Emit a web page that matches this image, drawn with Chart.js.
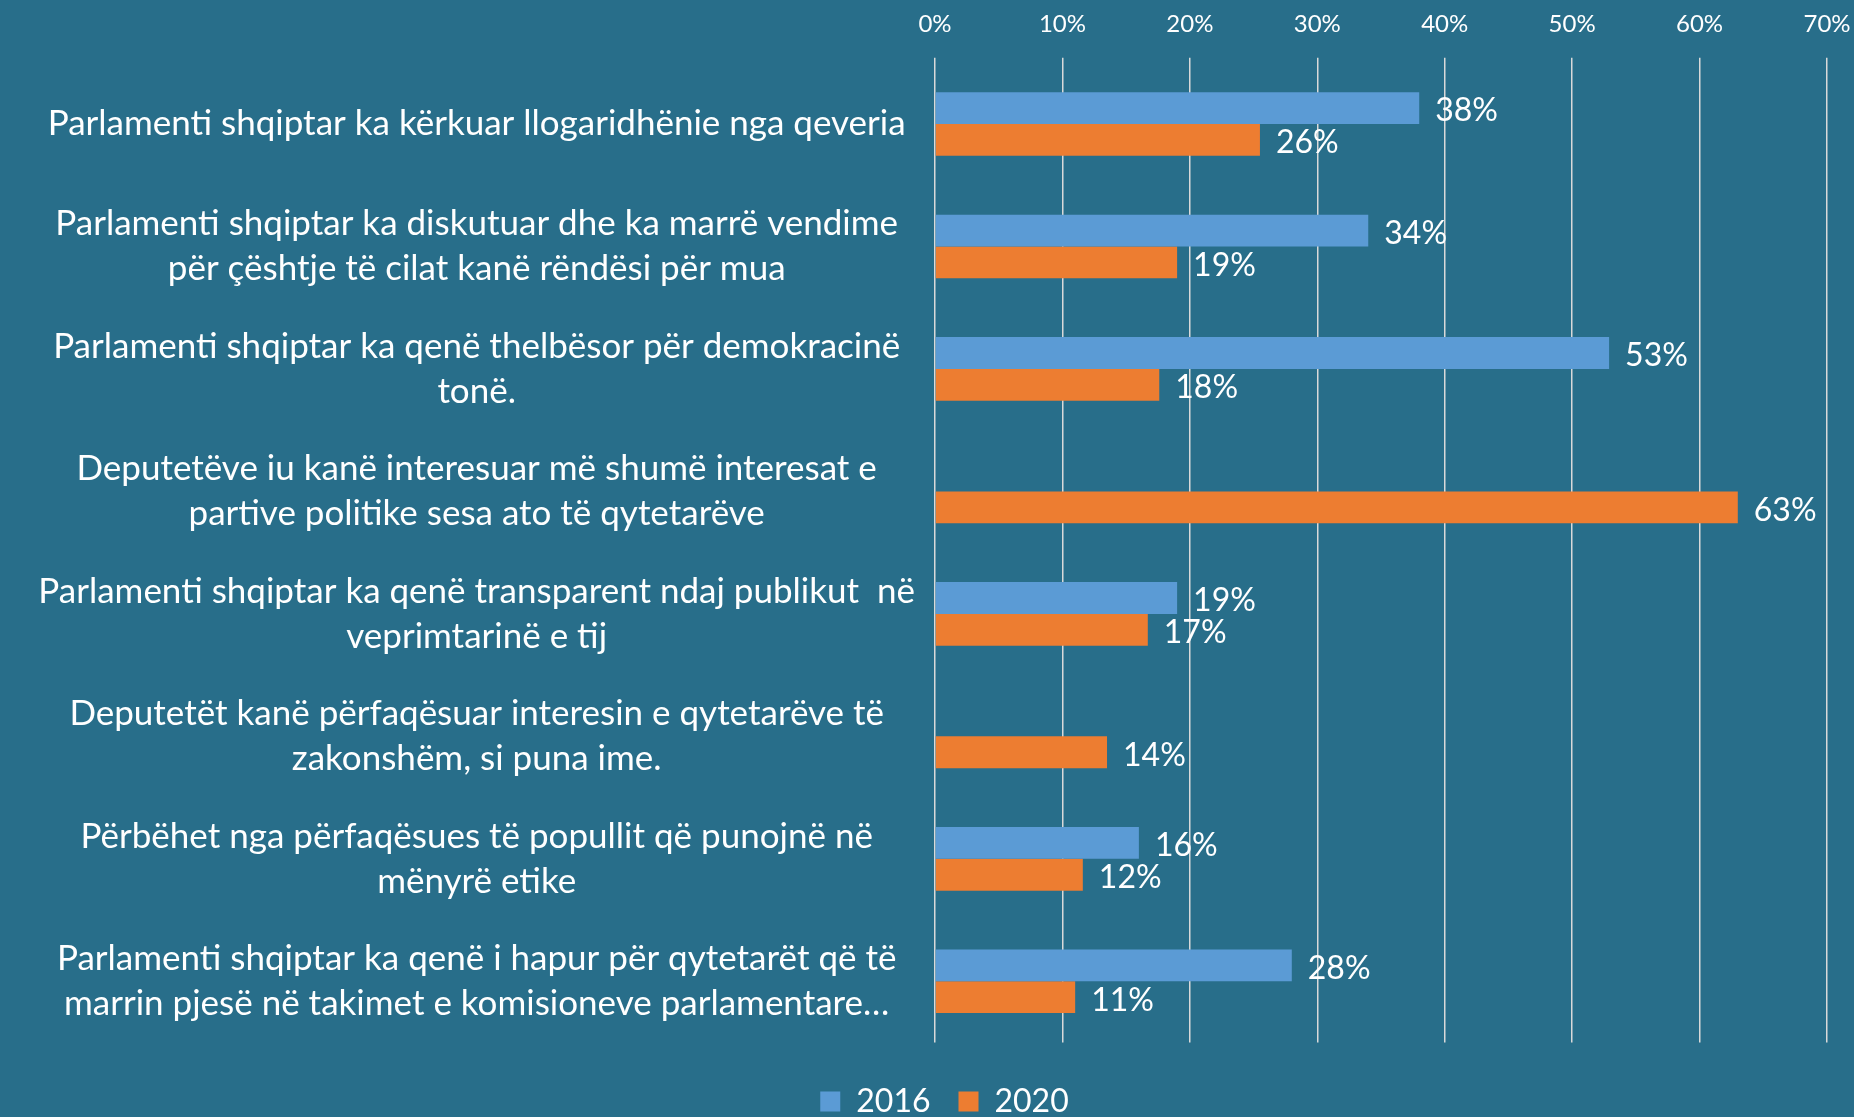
<!DOCTYPE html>
<html>
<head>
<meta charset="utf-8">
<script src="https://cdn.jsdelivr.net/npm/chart.js@4/dist/chart.umd.min.js"></script>
<style>
  html, body { margin: 0; padding: 0; background: #286E8A; }
  #wrap { width: 1854px; height: 1117px; }
</style>
</head>
<body>
<div id="wrap"><canvas id="c" width="1854" height="1117"></canvas></div>
<script>
const categories = [
  "Parlamenti shqiptar ka kërkuar llogaridhënie nga qeveria",
  ["Parlamenti shqiptar ka diskutuar dhe ka marrë vendime", "për çështje të cilat kanë rëndësi për mua"],
  ["Parlamenti shqiptar ka qenë thelbësor për demokracinë", "tonë."],
  ["Deputetëve iu kanë interesuar më shumë interesat e", "partive politike sesa ato të qytetarëve"],
  ["Parlamenti shqiptar ka qenë transparent ndaj publikut  në", "veprimtarinë e tij"],
  ["Deputetët kanë përfaqësuar interesin e qytetarëve të", "zakonshëm, si puna ime."],
  ["Përbëhet nga përfaqësues të popullit që punojnë në", "mënyrë etike"],
  ["Parlamenti shqiptar ka qenë i hapur për qytetarët që të", "marrin pjesë në takimet e komisioneve parlamentare…"]
];
const values2016 = [38, 34, 52.9, null, 19, null, 16, 28];
const values2020 = [25.5, 19, 17.6, 63, 16.7, 13.5, 11.6, 11];
const seriesNames = ["2016", "2020"];
const xTicks = [0, 10, 20, 30, 40, 50, 60, 70];

const FONT = "Lato, 'Open Sans', sans-serif";

const bgPlugin = {
  id: 'bg',
  beforeDraw(chart) {
    const ctx = chart.ctx;
    ctx.save();
    ctx.fillStyle = '#286E8A';
    ctx.fillRect(0, 0, chart.width, chart.height);
    ctx.restore();
  }
};

const legendShift = {
  id: 'legendShift',
  afterLayout(chart) {
    if (chart.legend) {
      chart.legend.left += 31;
      chart.legend.right += 31;
    }
  }
};

const valueLabels = {
  id: 'valueLabels',
  afterDatasetsDraw(chart) {
    const ctx = chart.ctx;
    ctx.save();
    ctx.font = "32px " + FONT;
    ctx.fillStyle = '#FFFFFF';
    ctx.textAlign = 'left';
    ctx.textBaseline = 'middle';
    chart.data.datasets.forEach((ds, di) => {
      const meta = chart.getDatasetMeta(di);
      meta.data.forEach((bar, i) => {
        const v = ds.data[i];
        if (v === null || v === undefined) return;
        ctx.fillText(Math.round(v) + '%', bar.x + 16, bar.y + 3);
      });
    });
    ctx.restore();
  }
};

new Chart(document.getElementById('c'), {
  type: 'bar',
  data: {
    labels: categories,
    datasets: [
      { label: seriesNames[0], data: values2016, backgroundColor: '#5B9BD5', borderWidth: 0,
        categoryPercentage: 0.52, barPercentage: 1.0 },
      { label: seriesNames[1], data: values2020, backgroundColor: '#ED7D31', borderWidth: 0,
        categoryPercentage: 0.52, barPercentage: 1.0 }
    ]
  },
  options: {
    indexAxis: 'y',
    responsive: false,
    animation: false,
    devicePixelRatio: 1,
    layout: { padding: { top: -9, right: 27, bottom: -10.5, left: 0 } },
    scales: {
      x: {
        position: 'top',
        min: 0, max: 70,
        afterBuildTicks(scale) { scale.ticks = xTicks.map(v => ({ value: v })); },
        afterFit(scale) { scale.paddingLeft = 0; scale.paddingRight = 0; },
        ticks: {
          color: '#FFFFFF',
          font: { family: FONT, size: 24 },
          padding: 19,
          callback: (v) => v + '%'
        },
        grid: { color: '#D9D9D9', lineWidth: 1.5, tickLength: 5, drawTicks: true },
        border: { display: false }
      },
      y: {
        afterFit(scale) { scale.width = 935; scale.paddingTop = 0; scale.paddingBottom = 0; },
        ticks: {
          color: '#FFFFFF',
          font: { family: FONT, size: 35, lineHeight: 1.286 },
          crossAlign: 'center',
          padding: 20,
          autoSkip: false
        },
        grid: { display: false, drawTicks: false },
        border: { display: false }
      }
    },
    plugins: {
      legend: {
        position: 'bottom',
        title: { display: true, text: ' ', font: { size: 1, lineHeight: 1 }, padding: { top: 14, bottom: 0 } },
        labels: {
          color: '#FFFFFF',
          font: { family: FONT, size: 32 },
          boxWidth: 20, boxHeight: 20,
          padding: 28
        }
      },
      tooltip: { enabled: false }
    }
  },
  plugins: [bgPlugin, legendShift, valueLabels]
});
</script>
</body>
</html>
